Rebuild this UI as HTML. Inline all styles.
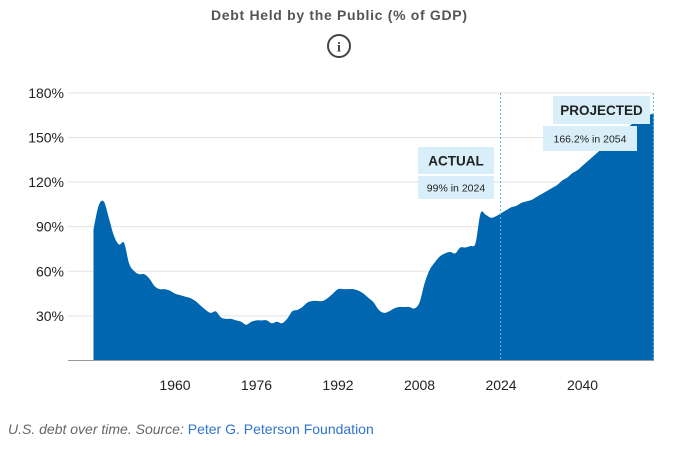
<!DOCTYPE html>
<html><head><meta charset="utf-8"><style>
body{margin:0;background:#fff;width:678px;height:447px;overflow:hidden;font-family:"Liberation Sans",sans-serif}
</style></head><body>
<svg width="678" height="447" xmlns="http://www.w3.org/2000/svg">
<text x="339" y="20" text-anchor="middle" font-size="14" font-weight="bold" fill="#555" textLength="256">Debt Held by the Public (% of GDP)</text>
<g>
<circle cx="339" cy="46" r="11" fill="none" stroke="#444" stroke-width="2"/>
<text x="339" y="51.5" text-anchor="middle" font-size="14" font-weight="bold" font-family="Liberation Serif" fill="#444">i</text>
</g>
<g id="grid"></g>
<path id="area" fill="#0066b0"/>
<g id="annot"></g>
<g id="xaxis"></g>
<text x="8" y="434" font-size="14" font-style="italic" fill="#666">U.S. debt over time. Source: <tspan fill="#2f74d0" font-style="normal">Peter G. Peterson Foundation</tspan></text>
</svg>
<script>
const years=[];for(let y=1944;y<=2054;y++)years.push(y);
const debt=[88,104,107,96,84,78,79,65,60,58,58,55,50,48,48,47,45,44,43,42,40,37,34,32,33,29,28,28,27,26,24,26,27,27,27,25,26,25,28,33,34,36,39,40,40,40,42,45,48,48,48,48,47,45,42,39,34,32,33,35,36,36,36,35,39,52,61,66,70,72,73,72,76,76,77,79,99,98,96,97,99,101,103,104,106,107,108,110,112,114,116,118,121,123,126,128,131,134,137,140,143,146,149,152,155,157,160,162,163,165,166.2];
const yTicks=[30,60,90,120,150,180];
const xTicks=[1960,1976,1992,2008,2024,2040];
const NS="http://www.w3.org/2000/svg";
const X=y=>93.5+(y-1944)*5.094;
const Y=v=>360.5-v*1.487;
function mk(t,a,p){const e=document.createElementNS(NS,t);for(const k in a)e.setAttribute(k,a[k]);p.appendChild(e);return e;}
const grid=document.getElementById('grid');
yTicks.forEach(v=>{
 const l=mk('line',{x1:68,x2:653,y1:Y(v),y2:Y(v),stroke:'#e3e3e3','stroke-width':1},grid);
 
 
 const t=mk('text',{x:64,y:Y(v)+5,'text-anchor':'end','font-size':'14',fill:'#222'},grid);
 t.textContent=v+'%';
 
 
});
const pts=years.map((y,i)=>[X(y),Y(debt[i])]);
let d='M'+pts[0][0]+','+Y(0)+' L'+pts[0][0].toFixed(1)+','+pts[0][1].toFixed(1);
for(let i=0;i<pts.length-1;i++){
 const p0=pts[Math.max(0,i-1)],p1=pts[i],p2=pts[i+1],p3=pts[Math.min(pts.length-1,i+2)];
 const c1=[p1[0]+(p2[0]-p0[0])/6,p1[1]+(p2[1]-p0[1])/6];
 const c2=[p2[0]-(p3[0]-p1[0])/6,p2[1]-(p3[1]-p1[1])/6];
 d+=' C'+c1[0].toFixed(1)+','+c1[1].toFixed(1)+' '+c2[0].toFixed(1)+','+c2[1].toFixed(1)+' '+p2[0].toFixed(1)+','+p2[1].toFixed(1);
}
d+=' L'+pts[pts.length-1][0]+','+Y(0)+' Z';
document.getElementById('area').setAttribute('d',d);
const xa=document.getElementById('xaxis');
const ax=mk('line',{x1:68,x2:654,y1:360.5,y2:360.5,stroke:'#999','stroke-width':1},xa);


xTicks.forEach(y=>{
 const t=mk('text',{x:X(y),y:390,'text-anchor':'middle','font-size':'14',fill:'#222'},xa);
 t.textContent=y;
 
 
});
const an=document.getElementById('annot');
[2024,2054].forEach(y=>{
 const l=mk('line',{x1:X(y)-0.5,x2:X(y)-0.5,y1:93,y2:360,stroke:'#5ab4dc','stroke-width':1,'stroke-dasharray':'2,2'},an);
 
 
});
function box(x,y,w,h,txt,fs,bold,name){
 const g=mk('g',{},an);
 
 
 mk('rect',{x:x,y:y,width:w,height:h,fill:'#d8eef8'},g);
 const t=mk('text',{x:x+w/2,y:y+h/2+fs*0.36,'text-anchor':'middle','font-size':fs,'font-weight':bold?'bold':'normal',fill:'#222'},g);
 t.textContent=txt;
}
box(418,147,76,27,'ACTUAL',13.5,true,'actual-label');
box(418,176,76,23,'99% in 2024',10.5,false,'actual-value');
box(553,96,97,28,'PROJECTED',13.5,true,'projected-label');
box(543,126,94,25,'166.2% in 2054',10.5,false,'projected-value');
</script>
</body></html>
